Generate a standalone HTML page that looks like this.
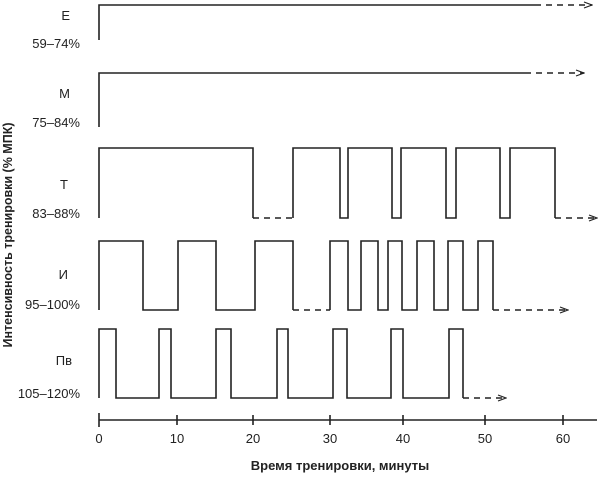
<!DOCTYPE html>
<html><head><meta charset="utf-8"><style>
body{margin:0;background:#fff}
svg text{font-family:"Liberation Sans","DejaVu Sans",sans-serif;fill:#222}
</style></head><body>
<svg width="600" height="474" viewBox="0 0 600 474" xmlns="http://www.w3.org/2000/svg">
<defs><marker id="a" markerWidth="10" markerHeight="8" refX="9" refY="4" orient="auto" markerUnits="userSpaceOnUse"><path d="M1,1 L9,4 L1,7" fill="none" stroke="#222" stroke-width="1.2"/></marker></defs>
<g fill="none" stroke="#222" stroke-width="1.6">
<path d="M99,40 V5 H535"/>
<path d="M535,5 H592" stroke-dasharray="6,5" marker-end="url(#a)"/>
<path d="M99,127 V73 H525"/>
<path d="M525,73 H584" stroke-dasharray="6,5" marker-end="url(#a)"/>
<path d="M99,218 V148 H253 V218"/>
<path d="M253,218 H293" stroke-dasharray="6,5"/>
<path d="M293,218 V148 H340 V218 H348 V148 H392 V218 H401 V148 H446 V218 H456 V148 H500 V218 H510 V148 H555 V218"/>
<path d="M555,218 H597" stroke-dasharray="6,5" marker-end="url(#a)"/>
<path d="M99,310 V241 H143 V310 H178 V241 H216 V310 H255 V241 H293 V310"/>
<path d="M293,310 H330" stroke-dasharray="6,5"/>
<path d="M330,310 V241 H348 V310 H361 V241 H378 V310 H388 V241 H402 V310 H417 V241 H434 V310 H448 V241 H463 V310 H478 V241 H493 V310"/>
<path d="M493,310 H568" stroke-dasharray="6,5" marker-end="url(#a)"/>
<path d="M99,398 V329 H116 V398 H159 V329 H171 V398 H216 V329 H231 V398 H277 V329 H288 V398 H333 V329 H347 V398 H391 V329 H403 V398 H449 V329 H463 V398"/>
<path d="M463,398 H506" stroke-dasharray="6,5" marker-end="url(#a)"/>
<path d="M99,420 H597"/>
<path d="M99,413 V427 M177,415 V425 M253,415 V425 M330,415 V425 M403,415 V425 M485,415 V425 M563,415 V425"/>
</g>
<g font-size="13" text-anchor="end">
<text x="70" y="20">E</text><text x="80" y="48">59–74%</text>
<text x="70" y="98">М</text><text x="80" y="127">75–84%</text>
<text x="68" y="189">Т</text><text x="80" y="218">83–88%</text>
<text x="68" y="279">И</text><text x="80" y="309">95–100%</text>
<text x="72" y="365">Пв</text><text x="80" y="398">105–120%</text>
</g>
<g font-size="13" text-anchor="middle">
<text x="99" y="443">0</text><text x="177" y="443">10</text><text x="253" y="443">20</text><text x="330" y="443">30</text><text x="403" y="443">40</text><text x="485" y="443">50</text><text x="563" y="443">60</text>
</g>
<text x="340" y="470" font-size="13" font-weight="bold" text-anchor="middle">Время тренировки, минуты</text>
<text transform="translate(12,235) rotate(-90)" font-size="12.5" font-weight="bold" text-anchor="middle">Интенсивность тренировки (% МПК)</text>
</svg>
</body></html>
